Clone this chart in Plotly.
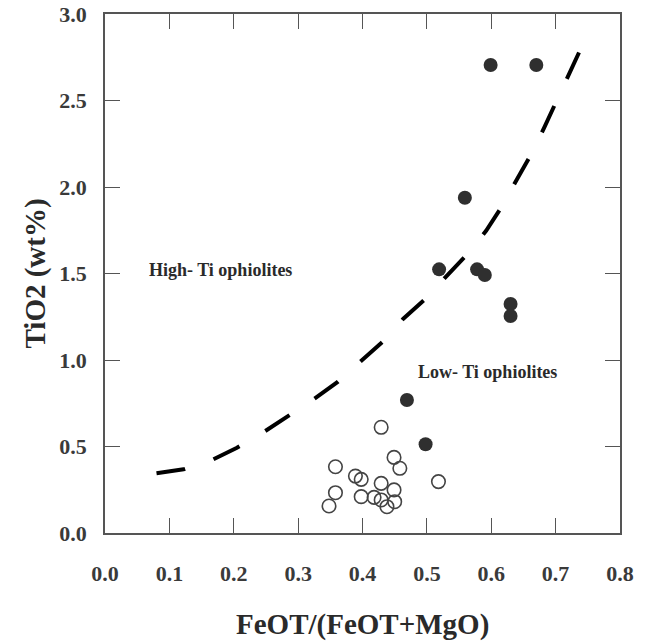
import plotly.graph_objects as go

# High-Ti (filled) samples
high_x = [0.599, 0.670, 0.559, 0.519, 0.578, 0.590, 0.630, 0.630, 0.469, 0.498]
high_y = [2.705, 2.705, 1.938, 1.524, 1.524, 1.491, 1.324, 1.254, 0.769, 0.513]

# Low-Ti (open) samples
low_x = [0.429, 0.449, 0.458, 0.358, 0.389, 0.398, 0.358, 0.348, 0.398, 0.429,
         0.449, 0.418, 0.429, 0.438, 0.450, 0.518]
low_y = [0.611, 0.437, 0.374, 0.383, 0.329, 0.310, 0.233, 0.156, 0.210, 0.287,
         0.249, 0.206, 0.191, 0.152, 0.181, 0.297]

# Dividing curve (dashed)
curve_x = [0.080, 0.122, 0.166, 0.205, 0.246, 0.285, 0.325, 0.362, 0.399, 0.431,
           0.463, 0.497, 0.532, 0.563, 0.592, 0.617, 0.640, 0.663, 0.683, 0.702,
           0.721, 0.741]
curve_y = [0.345, 0.368, 0.422, 0.493, 0.582, 0.676, 0.776, 0.875, 0.996, 1.104,
           1.237, 1.351, 1.491, 1.613, 1.747, 1.890, 2.045, 2.195, 2.349, 2.503,
           2.661, 2.815]

x_ticks = [0.0, 0.1, 0.2, 0.3, 0.4, 0.5, 0.6, 0.7, 0.8]
y_ticks = [0.0, 0.5, 1.0, 1.5, 2.0, 2.5, 3.0]

FONT = "Liberation Serif"

fig = go.Figure()
fig.add_trace(go.Scatter(x=curve_x, y=curve_y, mode="lines",
                         line=dict(color="black", width=4, dash="29px,30px"),
                         showlegend=False, hoverinfo="skip"))
fig.add_trace(go.Scatter(x=low_x, y=low_y, mode="markers",
                         marker=dict(symbol="circle-open", size=13.5,
                                     color="#444444", line=dict(width=1.6, color="#444444")),
                         showlegend=False))
fig.add_trace(go.Scatter(x=high_x, y=high_y, mode="markers",
                         marker=dict(symbol="circle", size=14, color="#2f2f2f",
                                     line=dict(width=0)),
                         showlegend=False))

fig.add_annotation(x=0.0657, y=1.52, text="High- Ti ophiolites", showarrow=False,
                   xanchor="left", yanchor="middle",
                   font=dict(family=FONT, size=18, color="#2a2a2a", weight="bold"))
fig.add_annotation(x=0.483, y=0.93, text="Low- Ti ophiolites", showarrow=False,
                   xanchor="left", yanchor="middle",
                   font=dict(family=FONT, size=18, color="#2a2a2a", weight="bold"))

# Axis titles
fig.add_annotation(x=0.5, y=-0.177, xref="paper", yref="paper",
                   text="FeOT/(FeOT+MgO)", showarrow=False,
                   xanchor="center", yanchor="middle",
                   font=dict(family=FONT, size=29, color="#2a2a2a", weight="bold"))
fig.add_annotation(x=-0.134, y=0.5, xref="paper", yref="paper",
                   text="TiO2 (wt%)", showarrow=False, textangle=-90,
                   xanchor="center", yanchor="middle",
                   font=dict(family=FONT, size=29, color="#2a2a2a", weight="bold"))

axis_common = dict(showline=True, linecolor="#555555", linewidth=1.5, mirror="allticks",
                   ticks="inside", ticklen=15, tickwidth=1.3, tickcolor="#555555",
                   showgrid=False, zeroline=False, automargin=False,
                   tickfont=dict(family=FONT, size=22, color="#3a3a3a", weight="bold"))

fig.update_xaxes(range=[0, 0.8], tickvals=x_ticks, tickformat=".1f",
                 ticklabelstandoff=20, **axis_common)
fig.update_yaxes(range=[0, 3.0], tickvals=y_ticks, tickformat=".1f",
                 ticklabelstandoff=12, **axis_common)

fig.update_layout(width=651, height=642,
                  margin=dict(l=105, r=31, t=14, b=109),
                  plot_bgcolor="white", paper_bgcolor="white",
                  showlegend=False)

# remove the browser's default 8px body margin so the figure fills the window
fig.write_html("out.html", config={"displayModeBar": False},
               post_script="document.body.style.margin='0';document.body.style.overflow='hidden';")
